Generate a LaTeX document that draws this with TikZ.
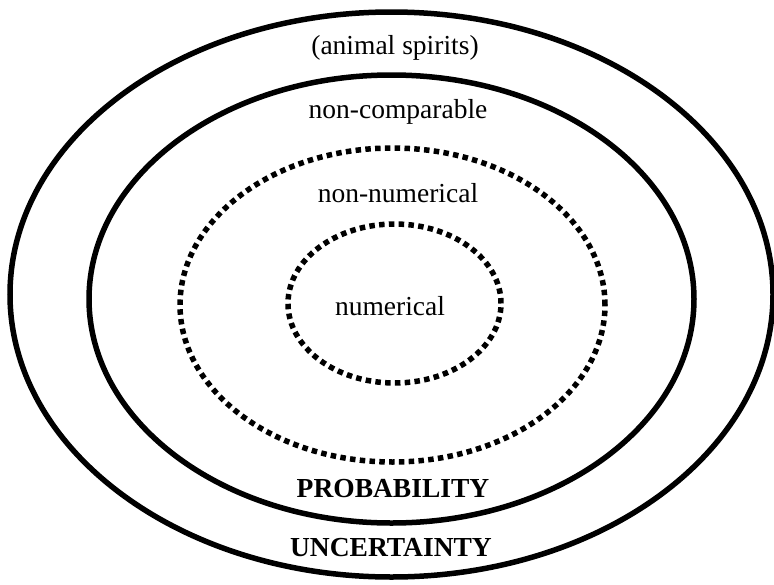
\documentclass[tikz,border=0pt]{standalone}
\usepackage{fontspec}
\setmainfont{Liberation Serif}
\newfontfamily\timesfont{Liberation Serif}
\usetikzlibrary{shapes.geometric}
\begin{document}
\begin{tikzpicture}[x=1pt,y=-1pt,
  ring/.style={draw=black, line width=5.5pt, shape=ellipse, inner sep=0pt, fill=none},
  dotring/.style={ring, line width=5.5pt, dash pattern=on 5.5pt off 4.3pt},
  lbl/.style={inner sep=0pt, font=\timesfont\fontsize{27.5}{30}\selectfont},
  blbl/.style={lbl, font=\timesfont\fontsize{27.5}{30}\selectfont\bfseries}]
\useasboundingbox[fill=white] (0,0) rectangle (774,584);
\node[ring, minimum width=763pt, minimum height=565pt] (uncert) at (391.5,294.5) {};
\node[ring, minimum width=605pt, minimum height=448pt] (prob) at (391.5,299) {};
\node[dotring, minimum width=425pt, minimum height=314pt] (nonnum) at (392.5,305) {};
\node[dotring, minimum width=213pt, minimum height=159pt] (num) at (394.5,303.5) {};
\node[lbl] (animal) at (395,48) {(animal spirits)};
\node[lbl] (noncomp) at (398,112) {non-comparable};
\node[lbl] (nonnumt) at (398,193) {non-numerical};
\node[lbl] (numt) at (390,306) {numerical};
\node[blbl] (probt) at (393,489) {PROBABILITY};
\node[blbl] (uncertt) at (391,548) {UNCERTAINTY};
\end{tikzpicture}
\end{document}
